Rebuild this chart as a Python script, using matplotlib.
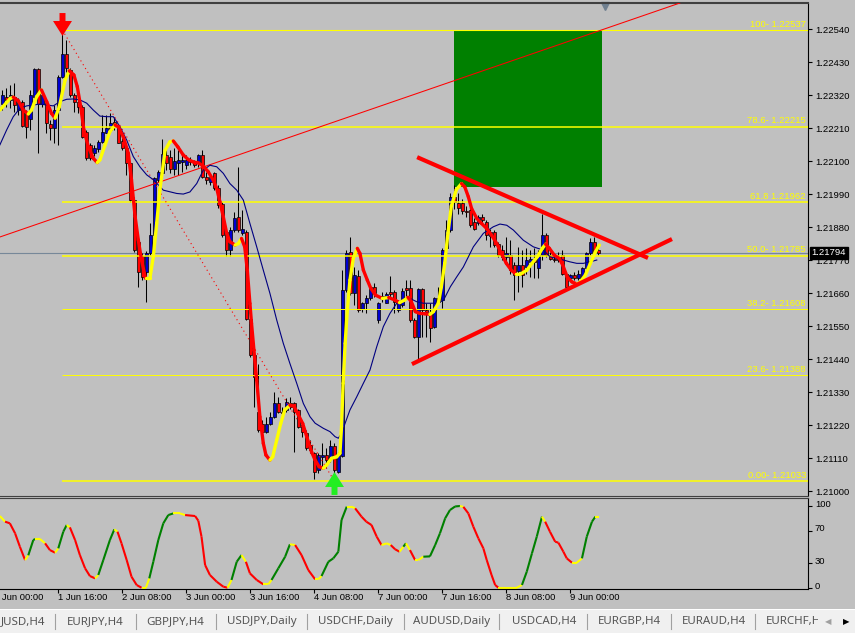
import numpy as np
import matplotlib
matplotlib.use("Agg")
import matplotlib.pyplot as plt
import matplotlib.transforms as mtransforms
from matplotlib.collections import LineCollection
from matplotlib.patches import Rectangle
from matplotlib.path import Path

plt.rcParams['font.family'] = ['Liberation Sans', 'DejaVu Sans']

# EURUSD H1 - bar index 0 = 1 Jun 00:00, first visible bar is index 2
first_bar = 2
opens = [
    1.22290, 1.22315, 1.22304, 1.22315, 1.22270, 1.22298, 1.22259, 1.22239, 1.22315, 1.22406,
    1.22290, 1.22295, 1.22224, 1.22209, 1.22270, 1.22381, 1.22457, 1.22404, 1.22320, 1.22298,
    1.22281, 1.22198, 1.22154, 1.22126, 1.22139, 1.22165, 1.22195, 1.22204, 1.22231, 1.22217,
    1.22168, 1.22143, 1.22093, 1.21970, 1.21830, 1.21785, 1.21731, 1.21792, 1.21854, 1.22037,
    1.22061, 1.22120, 1.22114, 1.22075, 1.22094, 1.22097, 1.22086, 1.22105, 1.22097, 1.22092,
    1.22120, 1.22047, 1.22031, 1.22059, 1.22009, 1.21956, 1.21864, 1.21803, 1.21870, 1.21912,
    1.21859, 1.21864, 1.21575, 1.21453, 1.21264, 1.21225, 1.21197, 1.21225, 1.21247, 1.21294,
    1.21264, 1.21270, 1.21292, 1.21292, 1.21270, 1.21220, 1.21192, 1.21153, 1.21126, 1.21070,
    1.21114, 1.21120, 1.21106, 1.21150, 1.21064, 1.21117, 1.21670, 1.21798, 1.21659, 1.21717,
    1.21606, 1.21626, 1.21642, 1.21679, 1.21570, 1.21644, 1.21628, 1.21664, 1.21664, 1.21603,
    1.21620, 1.21676, 1.21676, 1.21570, 1.21514, 1.21672, 1.21603, 1.21594, 1.21548, 1.21642,
    1.21636, 1.21809, 1.21870, 1.21981, 1.21959, 1.21961, 1.21934, 1.21936, 1.21897, 1.21894,
    1.21912, 1.21897, 1.21850, 1.21864, 1.21825, 1.21803, 1.21781, 1.21786, 1.21753, 1.21734,
    1.21753, 1.21747, 1.21764, 1.21775, 1.21742, 1.21786, 1.21853, 1.21786, 1.21775, 1.21770,
    1.21786, 1.21725, 1.21709, 1.21720, 1.21709, 1.21714, 1.21742, 1.21792, 1.21831, 1.21802,
]
highs = [
    1.22337, 1.22343, 1.22354, 1.22359, 1.22309, 1.22304, 1.22270, 1.22337, 1.22409, 1.22409,
    1.22326, 1.22298, 1.22237, 1.22287, 1.22387, 1.22537, 1.22504, 1.22409, 1.22326, 1.22315,
    1.22287, 1.22204, 1.22159, 1.22154, 1.22170, 1.22254, 1.22254, 1.22259, 1.22248, 1.22220,
    1.22176, 1.22159, 1.22098, 1.21980, 1.21848, 1.21795, 1.21800, 1.21893, 1.22048, 1.22070,
    1.22175, 1.22145, 1.22136, 1.22142, 1.22136, 1.22125, 1.22120, 1.22114, 1.22105, 1.22125,
    1.22136, 1.22064, 1.22059, 1.22064, 1.22020, 1.21964, 1.21870, 1.21881, 1.21931, 1.22081,
    1.21936, 1.21870, 1.21631, 1.21459, 1.21425, 1.21236, 1.21247, 1.21264, 1.21331, 1.21314,
    1.21281, 1.21309, 1.21314, 1.21297, 1.21275, 1.21231, 1.21203, 1.21170, 1.21131, 1.21126,
    1.21159, 1.21142, 1.21170, 1.21159, 1.21131, 1.21737, 1.21803, 1.21848, 1.21748, 1.21737,
    1.21631, 1.21653, 1.21687, 1.21692, 1.21631, 1.21664, 1.21664, 1.21717, 1.21670, 1.21637,
    1.21676, 1.21703, 1.21703, 1.21576, 1.21676, 1.21676, 1.21626, 1.21626, 1.21648, 1.21681,
    1.21809, 1.21903, 1.21992, 1.22020, 1.21992, 1.21975, 1.21950, 1.21942, 1.21909, 1.21920,
    1.21925, 1.21903, 1.21875, 1.21870, 1.21831, 1.21820, 1.21847, 1.21836, 1.21764, 1.21814,
    1.21803, 1.21809, 1.21803, 1.21809, 1.21803, 1.21925, 1.21859, 1.21797, 1.21786, 1.21797,
    1.21803, 1.21731, 1.21725, 1.21731, 1.21736, 1.21747, 1.21797, 1.21842, 1.21847, 1.21809,
]
lows = [
    1.22270, 1.22281, 1.22276, 1.22265, 1.22254, 1.22215, 1.22176, 1.22204, 1.22309, 1.22128,
    1.22281, 1.22193, 1.22170, 1.22161, 1.22154, 1.22376, 1.22398, 1.22315, 1.22265, 1.22259,
    1.22176, 1.22104, 1.22104, 1.22117, 1.22131, 1.22159, 1.22193, 1.22198, 1.22204, 1.22159,
    1.22137, 1.22054, 1.21965, 1.21798, 1.21681, 1.21705, 1.21631, 1.21787, 1.21840, 1.22031,
    1.22053, 1.22070, 1.22059, 1.22053, 1.22053, 1.22064, 1.22075, 1.22086, 1.22081, 1.22081,
    1.22042, 1.22025, 1.22020, 1.22005, 1.21942, 1.21847, 1.21783, 1.21783, 1.21864, 1.21864,
    1.21853, 1.21570, 1.21447, 1.21281, 1.21197, 1.21192, 1.21192, 1.21220, 1.21245, 1.21259,
    1.21247, 1.21264, 1.21275, 1.21131, 1.21209, 1.21181, 1.21137, 1.21126, 1.21040, 1.21059,
    1.21081, 1.21076, 1.21098, 1.21033, 1.21059, 1.21112, 1.21664, 1.21653, 1.21620, 1.21598,
    1.21598, 1.21592, 1.21637, 1.21648, 1.21561, 1.21631, 1.21626, 1.21648, 1.21592, 1.21598,
    1.21614, 1.21648, 1.21564, 1.21509, 1.21437, 1.21514, 1.21514, 1.21498, 1.21542, 1.21626,
    1.21609, 1.21803, 1.21864, 1.21940, 1.21925, 1.21925, 1.21915, 1.21881, 1.21870, 1.21886,
    1.21892, 1.21836, 1.21814, 1.21814, 1.21781, 1.21770, 1.21759, 1.21725, 1.21636, 1.21664,
    1.21681, 1.21725, 1.21714, 1.21709, 1.21709, 1.21770, 1.21781, 1.21770, 1.21764, 1.21764,
    1.21720, 1.21675, 1.21703, 1.21703, 1.21703, 1.21709, 1.21736, 1.21786, 1.21786, 1.21786,
]
closes = [
    1.22320, 1.22304, 1.22320, 1.22287, 1.22298, 1.22217, 1.22215, 1.22320, 1.22406, 1.22290,
    1.22320, 1.22226, 1.22209, 1.22270, 1.22381, 1.22457, 1.22409, 1.22320, 1.22298, 1.22279,
    1.22181, 1.22109, 1.22109, 1.22143, 1.22165, 1.22198, 1.22209, 1.22228, 1.22215, 1.22161,
    1.22143, 1.22093, 1.21970, 1.21804, 1.21731, 1.21715, 1.21792, 1.21854, 1.22042, 1.22065,
    1.22123, 1.22092, 1.22075, 1.22101, 1.22103, 1.22103, 1.22103, 1.22098, 1.22086, 1.22120,
    1.22047, 1.22036, 1.22047, 1.22009, 1.21953, 1.21853, 1.21803, 1.21870, 1.21909, 1.21870,
    1.21875, 1.21575, 1.21453, 1.21381, 1.21203, 1.21197, 1.21225, 1.21247, 1.21294, 1.21264,
    1.21259, 1.21297, 1.21281, 1.21264, 1.21214, 1.21198, 1.21142, 1.21137, 1.21064, 1.21120,
    1.21120, 1.21103, 1.21150, 1.21070, 1.21120, 1.21670, 1.21792, 1.21659, 1.21720, 1.21603,
    1.21626, 1.21642, 1.21679, 1.21659, 1.21626, 1.21649, 1.21657, 1.21657, 1.21631, 1.21626,
    1.21668, 1.21670, 1.21570, 1.21514, 1.21672, 1.21603, 1.21598, 1.21542, 1.21642, 1.21631,
    1.21803, 1.21870, 1.21981, 1.21964, 1.21942, 1.21934, 1.21930, 1.21886, 1.21875, 1.21912,
    1.21903, 1.21853, 1.21864, 1.21820, 1.21786, 1.21781, 1.21792, 1.21736, 1.21720, 1.21753,
    1.21720, 1.21770, 1.21775, 1.21764, 1.21786, 1.21853, 1.21786, 1.21772, 1.21770, 1.21781,
    1.21725, 1.21681, 1.21720, 1.21709, 1.21725, 1.21742, 1.21792, 1.21831, 1.21797, 1.21794,
]

# fast MA (red falling / yellow rising)
hma_x = [1.4, 4, 4.75, 6, 7.25, 8.5, 9.3, 10.6, 11.8, 13.1,
         14.3, 15.2, 16.25, 17.7, 18.75, 19.9, 20.75, 21.6, 22.4, 23.5,
         24.75, 25.75, 26.4, 27.7, 28.9, 30.2, 31, 32.25, 33.5, 34.3,
         35.2, 36, 36.8, 37.8, 38.9, 39.75, 40.6, 41.4, 42.7, 43.9,
         44.75, 45.9, 47.25, 48.5, 49.75, 51, 52.25, 53.5, 54.75, 55.6,
         56.4, 57.25, 58.1, 58.9, 60.2, 61, 61.8, 62.6, 63.25, 63.9,
         64.3, 64.9, 65.6, 66.4, 67.25, 67.9, 68.9, 69.6, 70.6, 71.6,
         72.6, 73.9, 74.9, 75.8, 77.1, 78.1, 79.3, 80.2, 81.2, 82.25,
         83.1, 84.3, 85.6, 86.4, 86.8, 87.2, 87.7, 88.25, 88.9, 89.75,
         90.75, 91.4, 92.25, 93.25, 94.1, 95.3, 97, 98.6, 100.1, 101.3,
         102.6, 103.4, 104.25, 105.25, 106.4, 107.6, 108.9, 109.75, 111, 111.75,
         112.6, 113.4, 114.25, 115.5, 116.8, 117.6, 118.5, 119.3, 120.6, 121.8,
         123.1, 124.3, 125.6, 126.75, 128, 129.25, 130.5, 131.5, 133.1, 134.4,
         135.75, 137, 137.8, 138.75, 140, 141.25, 142.1, 143.2, 144.4, 145.7,
         146.5, 147.75, 149, 150.25, 151.25]
hma_y = [1.22270, 1.22309, 1.22313, 1.22301, 1.22270, 1.22257, 1.22270, 1.22315, 1.22337, 1.22298,
         1.22259, 1.22243, 1.22281, 1.22370, 1.22401, 1.22387, 1.22348, 1.22281, 1.22204, 1.22148,
         1.22109, 1.22095, 1.22104, 1.22154, 1.22198, 1.22220, 1.22215, 1.22181, 1.22126, 1.22037,
         1.21915, 1.21837, 1.21770, 1.21709, 1.21709, 1.21781, 1.21893, 1.22004, 1.22136, 1.22164,
         1.22167, 1.22147, 1.22120, 1.22105, 1.22097, 1.22094, 1.22083, 1.22064, 1.22036, 1.22009,
         1.21964, 1.21914, 1.21859, 1.21831, 1.21820, 1.21825, 1.21842, 1.21814, 1.21736, 1.21625,
         1.21559, 1.21470, 1.21370, 1.21247, 1.21159, 1.21120, 1.21103, 1.21114, 1.21170, 1.21225,
         1.21270, 1.21286, 1.21283, 1.21259, 1.21225, 1.21181, 1.21131, 1.21103, 1.21081, 1.21076,
         1.21087, 1.21109, 1.21114, 1.21126, 1.21214, 1.21359, 1.21492, 1.21603, 1.21703, 1.21776,
         1.21809, 1.21792, 1.21737, 1.21703, 1.21676, 1.21653, 1.21642, 1.21645, 1.21637, 1.21628,
         1.21637, 1.21646, 1.21631, 1.21598, 1.21592, 1.21591, 1.21589, 1.21598, 1.21626, 1.21680,
         1.21760, 1.21860, 1.21950, 1.22005, 1.22025, 1.22014, 1.21981, 1.21942, 1.21909, 1.21892,
         1.21875, 1.21853, 1.21825, 1.21792, 1.21759, 1.21736, 1.21722, 1.21723, 1.21736, 1.21759,
         1.21781, 1.21809, 1.21823, 1.21809, 1.21786, 1.21775, 1.21753, 1.21714, 1.21697, 1.21690,
         1.21697, 1.21720, 1.21759, 1.21797, 1.21820]

# slow MA (navy)
ma_x = [1.4, 3.1, 4.75, 6.4, 8.1, 9.75, 11.4, 13.1, 14.75, 16.4,
        18.1, 19.75, 21.4, 23.1, 24.75, 26.4, 28.1, 29.75, 31.4, 33.1,
        34.75, 36.4, 38.1, 39.75, 42.25, 45.6, 47.25, 48.9, 50.6, 52.25,
        53.9, 55.6, 57.25, 58.9, 60.6, 62.25, 63.9, 65.6, 67.25, 68.9,
        70.6, 72.25, 73.9, 75.6, 77.25, 78.9, 80.2, 82.25, 83.9, 85.2,
        86, 86.8, 87.7, 88.9, 90.6, 92.25, 93.9, 95.6, 97.25, 98.9,
        100.6, 102.25, 103.9, 105.6, 107.25, 108.9, 110.6, 112.25, 114, 115.6,
        117.25, 119.75, 122.25, 124.75, 126.4, 128.1, 129.75, 132.25, 134.75, 137.25,
        138.9, 140.6, 142.25, 143.9, 145.6, 147.25, 148.9, 150.6]
ma_y = [1.22154, 1.22204, 1.22248, 1.22276, 1.22284, 1.22287, 1.22290, 1.22287, 1.22284, 1.22298,
        1.22306, 1.22307, 1.22304, 1.22293, 1.22270, 1.22250, 1.22248, 1.22248, 1.22215, 1.22170,
        1.22115, 1.22081, 1.22054, 1.22038, 1.22003, 1.21992, 1.21990, 1.21997, 1.22025, 1.22070,
        1.22086, 1.22081, 1.22059, 1.22025, 1.22003, 1.21970, 1.21892, 1.21814, 1.21736, 1.21659,
        1.21570, 1.21492, 1.21425, 1.21359, 1.21292, 1.21248, 1.21226, 1.21209, 1.21198, 1.21181,
        1.21176, 1.21192, 1.21226, 1.21270, 1.21314, 1.21359, 1.21403, 1.21481, 1.21548, 1.21592,
        1.21626, 1.21637, 1.21642, 1.21631, 1.21626, 1.21626, 1.21626, 1.21635, 1.21681, 1.21714,
        1.21747, 1.21814, 1.21859, 1.21881, 1.21890, 1.21886, 1.21870, 1.21836, 1.21814, 1.21803,
        1.21781, 1.21775, 1.21770, 1.21764, 1.21759, 1.21759, 1.21764, 1.21770]

# oscillator in the lower window (0..100)
osc_x = [1.4, 2.7, 3.9, 5.2, 6.4, 7.7, 8.5, 9.75, 10.2, 11.4,
         12.7, 13.9, 15.2, 16, 17.25, 18.1, 18.9, 20.2, 21.4, 22.7,
         23.9, 25.2, 26, 27.25, 28.9, 30, 30.8, 31.8, 33.1, 34.3,
         35.6, 36.8, 37.9, 38.75, 39.75, 41, 42.25, 43.5, 44.75, 46.4,
         47.7, 50.2, 51, 51.8, 52.7, 53.9, 55.6, 57.25, 58.3, 59.3,
         60.6, 61.8, 62.9, 63.9, 65.6, 67.25, 68.5, 69.3, 71, 72.7,
         73.9, 75.2, 76.8, 78.5, 80.2, 81, 81.8, 83.5, 84.75, 86,
         86.8, 88.1, 89.3, 90.2, 91.8, 93, 94.3, 95.6, 96.8, 98.1,
         99.1, 100.2, 101.3, 102.25, 102.9, 103.9, 105.2, 106, 107.25, 108.9,
         110.2, 111.4, 112.7, 113.9, 115.2, 116.4, 117.25, 118.5, 119.75, 121,
         122.25, 123.1, 124.3, 125.2, 126, 128.1, 130.6, 131.9, 133.1, 134.4,
         135.6, 136.9, 137.7, 138.9, 140.2, 141, 142.25, 143.1, 144.4, 145.6,
         146.9, 148.1, 149.4, 150.25, 151.1]
osc_y = [87.8, 80.9, 78.9, 66.7, 50.4, 34.1, 39.9, 58.5, 59.8, 59.8,
         54.5, 46.3, 43.1, 48.4, 68.7, 76.8, 74, 58.5, 40.2, 24,
         14.6, 11.8, 15.9, 34.1, 58.5, 71.5, 68.7, 54.5, 34.1, 13.8,
         3.6, 0.4, 0.4, 11.8, 32, 58.5, 78.9, 89, 91, 91,
         89, 87.8, 82.1, 62.6, 28, 15.9, 7.7, 1.6, 0.4, 9.8,
         32, 40.2, 32, 17.9, 9.8, 4.5, 4.5, 9.8, 24, 38.2,
         53.3, 52.4, 40.2, 21.9, 10.6, 10.6, 14.6, 32, 36.2, 44.3,
         82.9, 99.2, 99.2, 97.2, 87, 80.9, 76.8, 62.6, 52.4, 54.5,
         52.4, 47.2, 44.3, 50.4, 54.5, 46.3, 34.1, 34.1, 38.2, 38.6,
         52.4, 66.7, 85, 95.1, 99.5, 100, 99, 91, 74.8, 60.6,
         48.4, 34.1, 15.9, 3.7, 0.4, 0.4, 0.4, 3.7, 19.9, 42.3,
         62.6, 87, 80.9, 68.7, 56.5, 55.3, 44.3, 36.2, 30.9, 30.9,
         36.2, 62.6, 80.9, 87, 87]

time_ticks = [0, 16, 32, 48, 64, 80, 96, 112, 128, 144]
time_labels = ['1 Jun 00:00', '1 Jun 16:00', '2 Jun 08:00', '3 Jun 00:00', '3 Jun 16:00',
               '4 Jun 08:00', '7 Jun 00:00', '7 Jun 16:00', '8 Jun 08:00', '9 Jun 00:00']
price_ticks = [1.21000, 1.21110, 1.21220, 1.21330, 1.21440, 1.21550, 1.21660, 1.21770,
               1.21880, 1.21990, 1.22100, 1.22210, 1.22320, 1.22430, 1.22540]
osc_ticks = [0, 30, 70, 100]

# fibonacci retracement from the high (bar 17) to the low (bar 85)
fib_from, fib_to = 17, 85
fib_levels = [1.22537, 1.22215, 1.21962, 1.21785, 1.21608, 1.21388, 1.21033]
fib_labels = ['100- 1.22537', '78.6- 1.22215', '61.8 1.21962', '50.0- 1.21785',
              '38.2- 1.21608', '23.6- 1.21388', '0.00- 1.21033']

current_price = 1.21794
trend_x = [1.43, 150.9]
trend_y = [1.21847, 1.22533]
tri_upper_x = [105.7, 163.4]
tri_upper_y = [1.22113, 1.21777]
tri_lower_x = [104.4, 169.4]
tri_lower_y = [1.21423, 1.21840]
zone_x = [114.9, 151.9]
zone_y = [1.22014, 1.22537]

tab_names = ['JUSD,H4', 'EURJPY,H4', 'GBPJPY,H4', 'USDJPY,Daily', 'USDCHF,Daily',
             'AUDUSD,Daily', 'USDCAD,H4', 'EURGBP,H4', 'EURAUD,H4', 'EURCHF,H']

# ---------------------------------------------------------------------------
W, H = 855, 633
BG = '#c0c0c0'
fig = plt.figure(figsize=(W / 100, H / 100), dpi=100, facecolor=BG)


def px_box(x0, y0, x1, y1):
    return [x0 / W, 1 - y1 / H, (x1 - x0) / W, (y1 - y0) / H]


ax = fig.add_axes(px_box(0, 3, 808, 495.5), facecolor=BG)
osc = fig.add_axes(px_box(0, 497.5, 808, 589), facecolor=BG)
xlim = (1.43, 203.4)

# candles
idx = np.arange(first_bar, first_bar + len(closes))
o, h, l, c = map(np.array, (opens, highs, lows, closes))
bull = c >= o
ax.vlines(idx, l, h, color='black', lw=0.75, zorder=3)
ax.bar(idx, np.maximum(np.abs(c - o), 0.00002), bottom=np.minimum(o, c), width=0.72,
       color=np.where(bull, '#0000d0', '#ff0000'), edgecolor='black', linewidth=0.5, zorder=3.2)

# objects
ax.add_patch(Rectangle((zone_x[0], zone_y[0]), zone_x[1] - zone_x[0], zone_y[1] - zone_y[0],
                       fc='#008000', ec='none', zorder=1))
ax.axhline(current_price, color='#778899', lw=0.8, zorder=2)

fib_lw = [0.8, 1.1, 1.1, 1.1, 0.7, 0.7, 1.1]
for lvl, lab, lw in zip(fib_levels, fib_labels, fib_lw):
    ax.hlines(lvl, fib_from, xlim[1], color='#ffff00', lw=lw, zorder=3.5)
    ax.annotate(lab, xy=(xlim[1], lvl), xytext=(-1.5, 0.8), textcoords='offset points',
                ha='right', va='bottom', color='#ffff00', fontsize=6.8, zorder=7)
ax.plot([fib_from, fib_to], [fib_levels[0], fib_levels[-1]], color='#ff0000', lw=0.8,
        ls=(0, (1, 3)), zorder=5)
ax.axline((trend_x[0], trend_y[0]), (trend_x[1], trend_y[1]), color='#ff0000', lw=0.75, zorder=5)

ax.plot(ma_x, ma_y, color='#000080', lw=0.8, zorder=5)
pts = np.column_stack([hma_x, hma_y])
segs = np.stack([pts[:-1], pts[1:]], axis=1)
hcol = np.where(np.diff(hma_y) >= 0, '#ffff00', '#ff0000')
ax.add_collection(LineCollection(segs, colors=hcol, linewidths=2.4, capstyle='round', zorder=6))

ax.plot(tri_upper_x, tri_upper_y, color='#ff0000', lw=3, solid_capstyle='butt', zorder=7)
ax.plot(tri_lower_x, tri_lower_y, color='#ff0000', lw=3, solid_capstyle='butt', zorder=7)

# arrows at the fib anchors
arrow_v = [(-3, 11.5), (3, 11.5), (3, 3.5), (9.5, 3.5), (0, -11.5), (-9.5, 3.5), (-3, 3.5), (-3, 11.5)]
down_arrow = Path(arrow_v, closed=True)
up_arrow = Path([(x, -y) for x, y in arrow_v], closed=True)
up_shift = mtransforms.ScaledTranslation(0, 5.5 / 100, fig.dpi_scale_trans)
dn_shift = mtransforms.ScaledTranslation(0, -2 / 100, fig.dpi_scale_trans)
ax.plot(fib_from, highs[fib_from - first_bar], marker=down_arrow, ms=16.5, color='#ff0000',
        mec='#ff0000', mew=0, transform=ax.transData + up_shift, zorder=8)
ax.plot(fib_to, lows[fib_to - first_bar], marker=up_arrow, ms=16.5, color='#22ee22',
        mec='#22ee22', mew=0, transform=ax.transData + dn_shift, zorder=8)

# chart shift marker
ax.plot(152.7, 0.994, marker='v', ms=5.5, color='#708090',
        transform=mtransforms.blended_transform_factory(ax.transData, ax.transAxes), clip_on=False)

ax.set_xlim(*xlim)
ax.set_ylim(1.20985, 1.22627)
ax.yaxis.tick_right()
ax.set_yticks(price_ticks)
ax.set_yticklabels([f'{p:.5f}' for p in price_ticks])
ax.tick_params(axis='y', direction='out', length=3, width=0.8, pad=2, labelsize=6.8, colors='black')
ax.tick_params(axis='x', bottom=False, labelbottom=False)
ax.spines['left'].set_visible(False)
ax.spines['top'].set_color('#404040')
ax.spines['top'].set_linewidth(1.5)
ax.spines['bottom'].set_color('#404040')
ax.spines['right'].set_color('black')

ax.annotate(f'{current_price:.5f}', xy=(1, current_price), xycoords=('axes fraction', 'data'),
            xytext=(2.6, 0), textcoords='offset points', ha='left', va='center', color='white',
            fontsize=6.8, zorder=10, annotation_clip=False,
            bbox=dict(boxstyle='square,pad=0.15', fc='black', ec='black'))

# oscillator window
ox = np.array(osc_x)
oy = np.array(osc_y)
opts = np.column_stack([ox, oy])
osegs = np.stack([opts[:-1], opts[1:]], axis=1)
dirs = np.sign(np.diff(oy))
ocol = []
for k, d in enumerate(dirs):
    if d == 0 or k == 0 or d != dirs[k - 1]:
        ocol.append('#ffff00')
    elif d > 0:
        ocol.append('#008000')
    else:
        ocol.append('#ff0000')
osc.add_collection(LineCollection(osegs, colors=ocol, linewidths=1.5, capstyle='butt'))
osc.set_xlim(*xlim)
osc.set_ylim(-1.2, 110.4)
osc.yaxis.tick_right()
osc.set_yticks(osc_ticks)
osc.set_yticklabels([str(t) for t in osc_ticks])
osc.tick_params(axis='y', direction='out', length=3, width=0.8, pad=2, labelsize=6.8)
# scale labels sit a little above their levels, as in the terminal
lift = mtransforms.ScaledTranslation(0, 3 / 100, fig.dpi_scale_trans)
for lab in osc.get_yticklabels():
    lab.set_transform(lab.get_transform() + lift)
osc.set_xticks([t for t in time_ticks if t >= xlim[0]])
osc.tick_params(axis='x', direction='out', length=3, width=0.8, labelbottom=False)
osc.spines['left'].set_visible(False)
osc.spines['top'].set_color('#404040')
for t, lab in zip(time_ticks, time_labels):
    osc.annotate(lab, xy=(t, 0), xycoords=('data', 'axes fraction'), xytext=(0, -3.2),
                 textcoords='offset points', ha='left', va='top', fontsize=6.8,
                 annotation_clip=False)

# symbol tabs at the bottom
fig.patches.append(Rectangle((0, 0), 1, 23 / H, transform=fig.transFigure, fc='#f0f0f0', ec='none'))
fig.patches.append(Rectangle((0, 23 / H), 1, 1.5 / H, transform=fig.transFigure, fc='#ffffff', ec='none'))
tab_x = [1, 66.7, 146.7, 226.7, 318.3, 413.3, 511.7, 598.3, 681.7, 766]
sep_x = [55, 135.7, 216, 306.7, 404, 499.3, 586.7, 671.3, 755]
for name, x in zip(tab_names, tab_x):
    fig.text(x / W, 1 - 621.5 / H, name, fontsize=8.3, family=['Noto Sans', 'DejaVu Sans'],
             color='#555555', ha='left', va='center')
for x in sep_x:
    fig.add_artist(plt.Line2D([x / W, x / W], [1 - 614 / H, 1 - 629 / H], color='#a0a0a0', lw=0.8))
fig.patches.append(Rectangle((818 / W, 0), 37 / W, 23 / H, transform=fig.transFigure,
                             fc='#f0f0f0', ec='none', zorder=5))
fig.text(825 / W, 1 - 621.5 / H, '\u25c0', fontsize=6, family='DejaVu Sans', color='#a0a0a0',
         ha='left', va='center', zorder=6)
fig.text(843 / W, 1 - 621.5 / H, '\u25b6', fontsize=6, family='DejaVu Sans', color='black',
         ha='left', va='center', zorder=6)

fig.savefig('out.png', dpi=100, facecolor=fig.get_facecolor())
